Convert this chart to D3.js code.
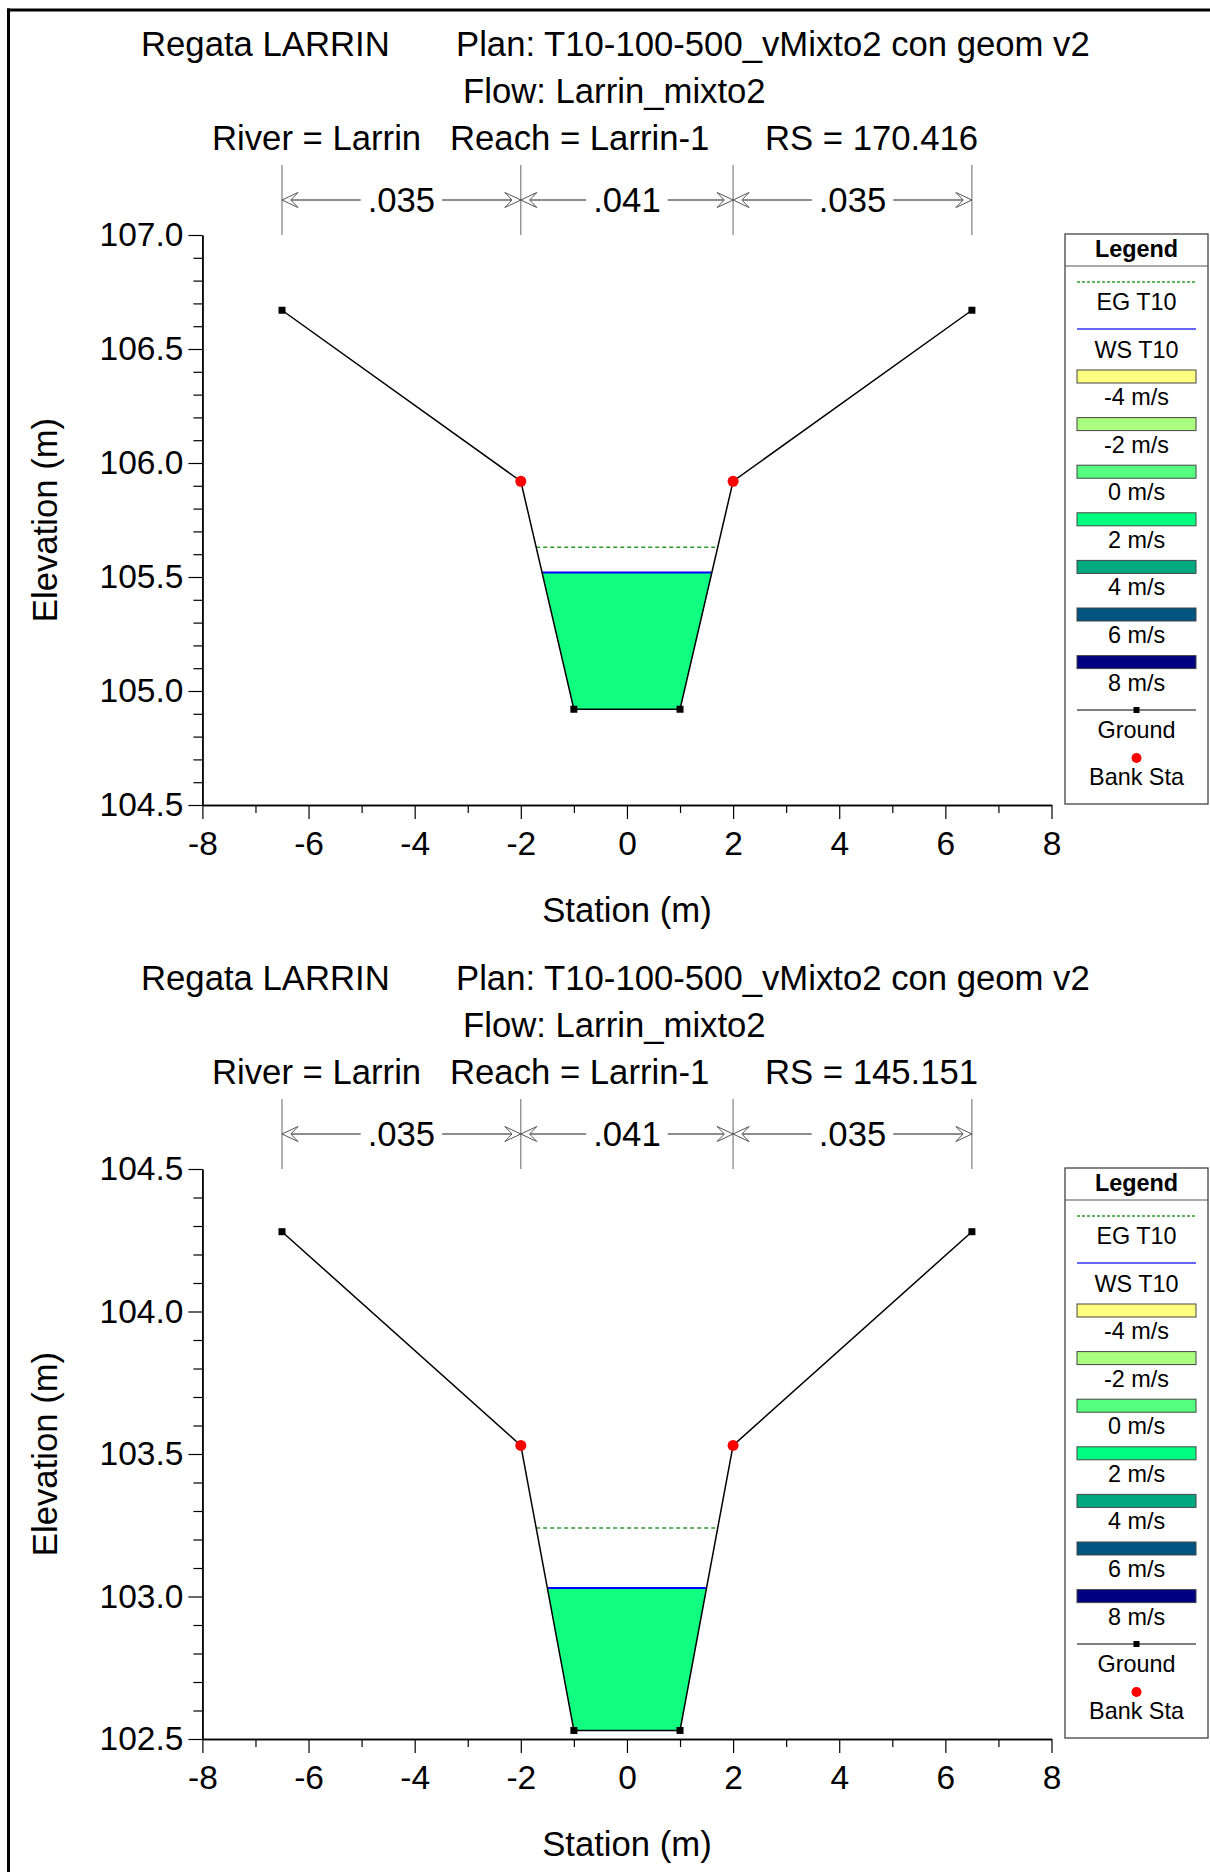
<!DOCTYPE html>
<html>
<head>
<meta charset="utf-8">
<script src="https://cdn.jsdelivr.net/npm/d3@7"></script>
<style>
  html, body { margin: 0; padding: 0; background: #fff; }
  svg { display: block; font-family: "Liberation Sans", Arial, sans-serif; }
</style>
</head>
<body>
<svg id="chart" width="1210" height="1872"></svg>
<script>
// ---- Cross-section data (HEC-RAS, Regata LARRIN) ----
const projectTitle = "Regata LARRIN";
const planTitle = "Plan: T10-100-500_vMixto2 con geom v2";
const flowTitle = "Flow: Larrin_mixto2";
const riverLabel = "River = Larrin";
const reachLabel = "Reach = Larrin-1";
const riverStations = ["170.416", "145.151"];

// Station (m) of each ground point
const stations = [-6.5, -2, -1, 1, 2, 6.5];
// Ground elevation (m) per section
const groundRS170 = [106.67, 105.92, 104.92, 104.92, 105.92, 106.67];
const groundRS145 = [104.28, 103.53, 102.53, 102.53, 103.53, 104.28];
const bankStations = [-2, 2];

// Water surface and energy grade for the T10 profile
const wsT10 = [105.52, 103.03];
const egT10 = [105.63, 103.24];

// Manning's n zones
const nBreaks = [-6.5, -2, 2, 6.5];
const nValues = [".035", ".041", ".035"];

// Axis ranges
const yDomains = [[104.5, 107.0], [102.5, 104.5]];
const xDomain = [-8, 8];

// Velocity legend
const velocityLabels = ["-4 m/s", "-2 m/s", "0 m/s", "2 m/s", "4 m/s", "6 m/s", "8 m/s"];
const velocityColors = ["#ffff80", "#aaff80", "#55ff80", "#00ff80", "#00aa80", "#005580", "#000080"];
const waterFill = "#10ff80";

const grounds = [groundRS170, groundRS145];

const svg = d3.select("#chart");
const FONT = 34.7, TICK_FONT = 33.5, LEG_FONT = 23.4;

// outer frame (top and left edges)
svg.append("line").attr("x1", 7).attr("x2", 1210).attr("y1", 10).attr("y2", 10)
  .attr("stroke", "#000").attr("stroke-width", 3);
svg.append("line").attr("x1", 8.5).attr("x2", 8.5).attr("y1", 8.5).attr("y2", 1872)
  .attr("stroke", "#000").attr("stroke-width", 3);

// where a horizontal level crosses the ground profile
function crossings(xs, zs, level) {
  const out = [];
  for (let i = 0; i < xs.length - 1; i++) {
    const a = zs[i] - level, b = zs[i + 1] - level;
    if (a * b < 0) {
      const t = a / (a - b);
      out.push(xs[i] + t * (xs[i + 1] - xs[i]));
    }
  }
  return out;
}

// wetted polygon below a level
function wetPolygon(xs, zs, level) {
  const pts = [];
  for (let i = 0; i < xs.length; i++) {
    if (zs[i] <= level) pts.push([xs[i], zs[i]]);
    if (i < xs.length - 1) {
      const a = zs[i] - level, b = zs[i + 1] - level;
      if (a * b < 0) {
        const t = a / (a - b);
        pts.push([xs[i] + t * (xs[i + 1] - xs[i]), level]);
      }
    }
  }
  return pts;
}

// plain hyphen for negative tick values
const intFmt = d => String(d);
const oneDec = d => d.toFixed(1);

function drawSection(k) {
  const dy = k * 934;
  const top = 235 + dy, bottom = 805 + dy;
  const left = 202.4, right = 1051.5;
  const g = svg.append("g");
  const ground = grounds[k];

  const x = d3.scaleLinear().domain(xDomain).range([left, right]);
  const y = d3.scaleLinear().domain(yDomains[k]).range([bottom, top]);

  // titles
  const t = g.append("g").attr("font-size", FONT).attr("fill", "#000");
  t.append("text").attr("x", 141).attr("y", 56 + dy).text(projectTitle);
  t.append("text").attr("x", 456).attr("y", 56 + dy).text(planTitle);
  t.append("text").attr("x", 463).attr("y", 103 + dy).text(flowTitle);
  t.append("text").attr("x", 212).attr("y", 150 + dy).text(riverLabel);
  t.append("text").attr("x", 450).attr("y", 150 + dy).text(reachLabel);
  t.append("text").attr("x", 765).attr("y", 150 + dy).text("RS = " + riverStations[k]);

  // Manning's n bar
  const nb = g.append("g");
  const barY = 200 + dy;
  nBreaks.forEach(s => {
    nb.append("line").attr("x1", x(s)).attr("x2", x(s))
      .attr("y1", 165 + dy).attr("y2", top)
      .attr("stroke", "#666").attr("stroke-width", 1);
  });
  const arrowHead = (tipX, dir) => {
    const L = 16, h = 7.5;
    return `M${tipX},${barY} L${tipX - dir * L},${barY - h} L${tipX - dir * L * 0.55},${barY} L${tipX - dir * L},${barY + h} Z`;
  };
  nValues.forEach((v, i) => {
    const x0 = x(nBreaks[i]), x1 = x(nBreaks[i + 1]);
    const cx = (x0 + x1) / 2;
    const label = nb.append("text").attr("x", cx).attr("y", barY + 12)
      .attr("text-anchor", "middle").attr("font-size", FONT).text(v);
    const w = label.node().getComputedTextLength();
    const gap = 7;
    nb.append("line").attr("x1", x0).attr("x2", cx - w / 2 - gap)
      .attr("y1", barY).attr("y2", barY).attr("stroke", "#666").attr("stroke-width", 1.5);
    nb.append("line").attr("x1", cx + w / 2 + gap).attr("x2", x1)
      .attr("y1", barY).attr("y2", barY).attr("stroke", "#666").attr("stroke-width", 1.5);
    nb.append("path").attr("d", arrowHead(x0, -1))
      .attr("fill", "#fff").attr("stroke", "#555").attr("stroke-width", 1);
    nb.append("path").attr("d", arrowHead(x1, 1))
      .attr("fill", "#fff").attr("stroke", "#555").attr("stroke-width", 1);
  });

  // axes
  const [y0, y1] = yDomains[k];
  const yMajor = d3.range(Math.round(y0 * 2), Math.round(y1 * 2) + 1).map(v => v / 2);
  const yMinor = d3.range(Math.round(y0 * 10), Math.round(y1 * 10) + 1).map(v => v / 10)
    .filter(v => Math.abs(v * 2 - Math.round(v * 2)) > 1e-6);
  const xMajor = d3.range(xDomain[0], xDomain[1] + 1, 2);
  const xMinor = d3.range(xDomain[0] + 1, xDomain[1], 2);

  const styleAxis = sel => {
    sel.selectAll("path.domain").attr("stroke", "#000").attr("stroke-width", 1.4);
    sel.selectAll(".tick line").attr("stroke", "#000").attr("stroke-width", 1.2);
    sel.selectAll(".tick text").attr("fill", "#000").attr("font-size", TICK_FONT)
      .attr("font-family", "Liberation Sans, Arial, sans-serif");
  };

  g.append("g").attr("transform", `translate(${left},0)`)
    .call(d3.axisLeft(y).tickValues(yMinor).tickSize(9).tickSizeOuter(0).tickFormat(""))
    .call(styleAxis);
  g.append("g").attr("transform", `translate(${left},0)`)
    .call(d3.axisLeft(y).tickValues(yMajor).tickSize(14).tickSizeOuter(0)
      .tickPadding(5).tickFormat(oneDec))
    .call(styleAxis);
  g.append("g").attr("transform", `translate(0,${bottom})`)
    .call(d3.axisBottom(x).tickValues(xMinor).tickSize(8).tickSizeOuter(0).tickFormat(""))
    .call(styleAxis);
  g.append("g").attr("transform", `translate(0,${bottom})`)
    .call(d3.axisBottom(x).tickValues(xMajor).tickSize(14).tickSizeOuter(0)
      .tickPadding(12).tickFormat(intFmt))
    .call(styleAxis);

  g.append("text").attr("x", (left + right) / 2).attr("y", 922 + dy)
    .attr("text-anchor", "middle").attr("font-size", FONT).text("Station (m)");
  g.append("text").attr("transform", `translate(57,${(top + bottom) / 2}) rotate(-90)`)
    .attr("text-anchor", "middle").attr("font-size", FONT).text("Elevation (m)");

  // water
  const poly = wetPolygon(stations, ground, wsT10[k]);
  g.append("path")
    .attr("d", d3.line().x(d => x(d[0])).y(d => y(d[1]))(poly) + "Z")
    .attr("fill", waterFill).attr("stroke", "none");

  const egX = crossings(stations, ground, egT10[k]);
  g.append("line").attr("x1", x(egX[0])).attr("x2", x(egX[egX.length - 1]))
    .attr("y1", y(egT10[k])).attr("y2", y(egT10[k]))
    .attr("stroke", "#2e9a2e").attr("stroke-width", 1.5).attr("stroke-dasharray", "4,3");
  const wsX = crossings(stations, ground, wsT10[k]);
  g.append("line").attr("x1", x(wsX[0])).attr("x2", x(wsX[wsX.length - 1]))
    .attr("y1", y(wsT10[k])).attr("y2", y(wsT10[k]))
    .attr("stroke", "#0000ff").attr("stroke-width", 2);

  // ground
  const gp = stations.map((s, i) => [s, ground[i]]);
  g.append("path").attr("d", d3.line().x(d => x(d[0])).y(d => y(d[1]))(gp))
    .attr("fill", "none").attr("stroke", "#000").attr("stroke-width", 1.5);
  g.selectAll(null).data(gp).enter().append("rect")
    .attr("x", d => x(d[0]) - 3.5).attr("y", d => y(d[1]) - 3.5)
    .attr("width", 7).attr("height", 7).attr("fill", "#000");
  g.selectAll(null).data(bankStations).enter().append("circle")
    .attr("cx", d => x(d)).attr("cy", d => y(ground[stations.indexOf(d)]))
    .attr("r", 5.5).attr("fill", "#ff0000");

  // legend
  const lg = g.append("g").attr("font-size", LEG_FONT);
  const lx0 = 1065, lx1 = 1208, ly = 234 + dy;
  const cx = (lx0 + lx1) / 2, sx0 = 1077, sx1 = 1196;
  lg.append("rect").attr("x", lx0).attr("y", ly).attr("width", lx1 - lx0).attr("height", 570)
    .attr("fill", "#fff").attr("stroke", "#333").attr("stroke-width", 1.2);
  lg.append("text").attr("x", cx).attr("y", ly + 23).attr("text-anchor", "middle")
    .attr("font-weight", "bold").text("Legend");
  lg.append("line").attr("x1", lx0).attr("x2", lx1).attr("y1", ly + 32).attr("y2", ly + 32)
    .attr("stroke", "#555").attr("stroke-width", 1);

  lg.append("line").attr("x1", sx0).attr("x2", sx1).attr("y1", ly + 48).attr("y2", ly + 48)
    .attr("stroke", "#2e9a2e").attr("stroke-width", 1.5).attr("stroke-dasharray", "3,2");
  lg.append("text").attr("x", cx).attr("y", ly + 76).attr("text-anchor", "middle").text("EG T10");
  lg.append("line").attr("x1", sx0).attr("x2", sx1).attr("y1", ly + 95).attr("y2", ly + 95)
    .attr("stroke", "#3333ff").attr("stroke-width", 1.3);
  lg.append("text").attr("x", cx).attr("y", ly + 124).attr("text-anchor", "middle").text("WS T10");

  velocityLabels.forEach((lab, i) => {
    const sy = ly + 136 + i * 47.6;
    lg.append("rect").attr("x", sx0).attr("y", sy).attr("width", sx1 - sx0).attr("height", 13)
      .attr("fill", velocityColors[i]).attr("stroke", "#444").attr("stroke-width", 1);
    lg.append("text").attr("x", cx).attr("y", sy + 35).attr("text-anchor", "middle").text(lab);
  });

  lg.append("line").attr("x1", sx0).attr("x2", sx1).attr("y1", ly + 476).attr("y2", ly + 476)
    .attr("stroke", "#000").attr("stroke-width", 1.2);
  lg.append("rect").attr("x", cx - 3).attr("y", ly + 473).attr("width", 6).attr("height", 6).attr("fill", "#000");
  lg.append("text").attr("x", cx).attr("y", ly + 504).attr("text-anchor", "middle").text("Ground");
  lg.append("circle").attr("cx", cx).attr("cy", ly + 524).attr("r", 5).attr("fill", "#ff0000");
  lg.append("text").attr("x", cx).attr("y", ly + 551).attr("text-anchor", "middle").text("Bank Sta");
}

drawSection(0);
drawSection(1);
</script>
</body>
</html>
